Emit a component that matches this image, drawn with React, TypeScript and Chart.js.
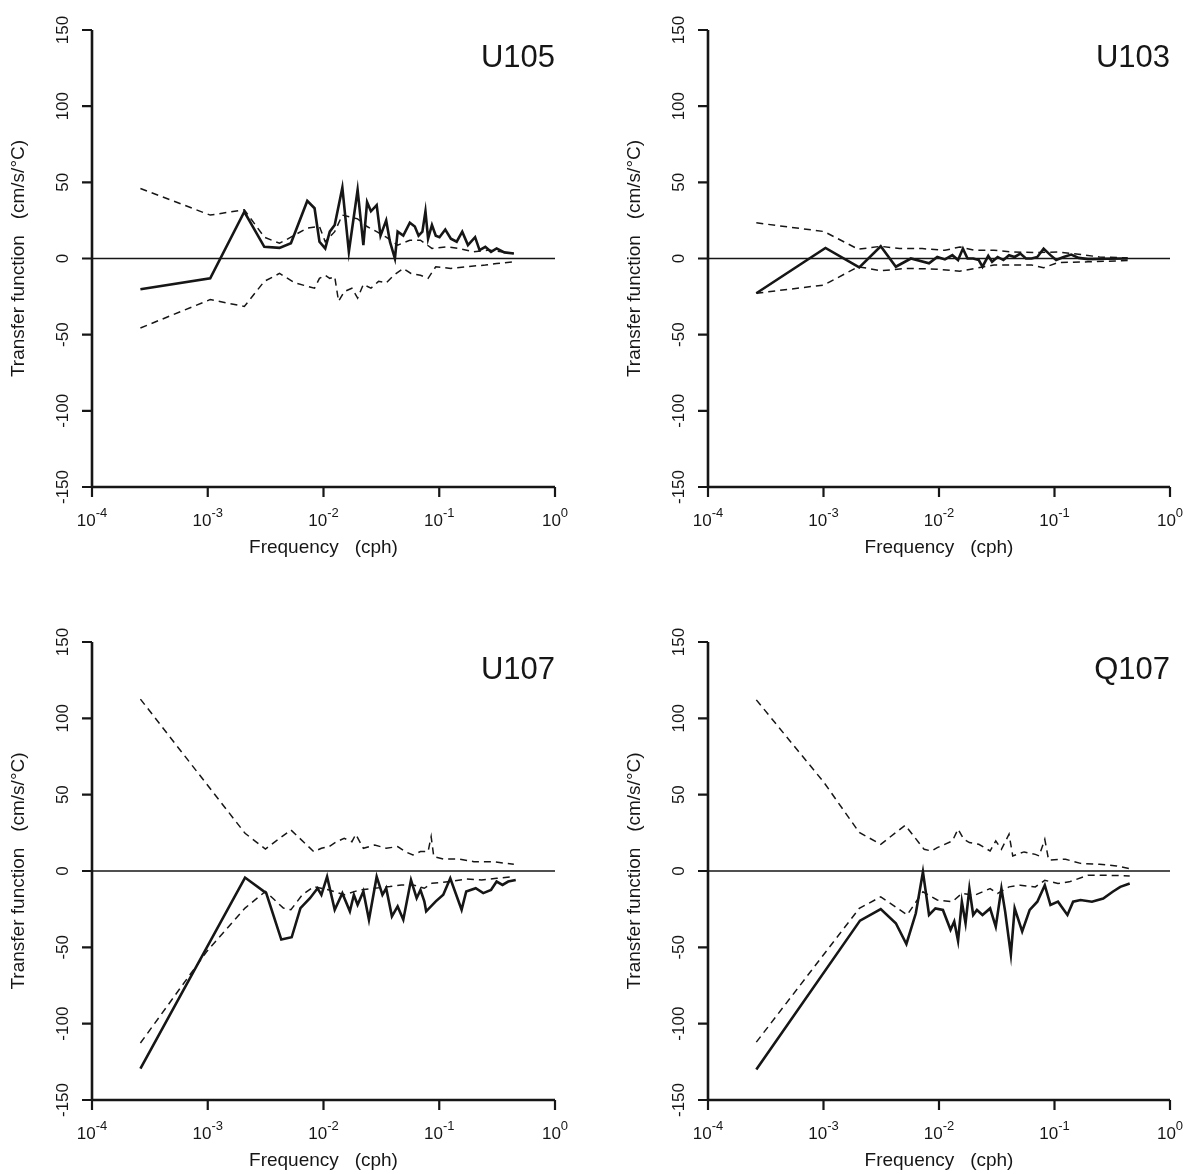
import React, { useEffect, useRef } from "react";
import { Chart, registerables } from "chart.js";

Chart.register(...registerables);

const FONT = '"Liberation Sans", Arial, Helvetica, sans-serif';

const X_TICK_EXPONENTS = [-4, -3, -2, -1, 0];
const Y_TICKS = [-150, -100, -50, 0, 50, 100, 150];
const X_TITLE = "Frequency   (cph)";
const Y_TITLE = "Transfer function   (cm/s/°C)";

// ---------- U105 ----------
const U105_SOLID_F = [2.62e-4, 1.05e-3, 2.07e-3, 3.08e-3, 4.17e-3, 5.23e-3, 7.24e-3, 8.37e-3, 9.23e-3, 1.035e-2, 1.133e-2, 1.25e-2, 1.455e-2, 1.656e-2, 1.971e-2, 2.21e-2, 2.38e-2, 2.57e-2, 2.88e-2, 3.11e-2, 3.48e-2, 3.75e-2, 4.14e-2, 4.37e-2, 4.89e-2, 5.57e-2, 6.15e-2, 6.63e-2, 7.15e-2, 7.6e-2, 8.01e-2, 8.65e-2, 9.33e-2, 0.1005, 0.1127, 0.126, 0.1415, 0.158, 0.177, 0.204, 0.223, 0.25, 0.28, 0.313, 0.365, 0.441];
const U105_SOLID = [-20.2, -13, 30.7, 7.7, 7, 10, 37.8, 33, 11, 6.6, 17.6, 22, 46.5, 4.4, 45, 8.8, 37, 31, 35, 15, 25, 11, 0, 17.6, 15, 23.5, 21, 15, 17.6, 31, 13, 22, 15, 14, 19, 13, 11, 17.6, 8.8, 14, 5.5, 7.7, 4.4, 6.6, 4, 3.3];
const U105_UPPER_F = [2.62e-4, 1.05e-3, 2.07e-3, 3.08e-3, 4.17e-3, 5.23e-3, 7.24e-3, 9.23e-3, 1.035e-2, 1.25e-2, 1.455e-2, 1.971e-2, 2.38e-2, 2.88e-2, 3.48e-2, 4.37e-2, 5.57e-2, 6.88e-2, 8.65e-2, 0.117, 0.147, 0.199, 0.269, 0.441];
const U105_UPPER = [46, 28.5, 32, 14, 10, 14, 20, 21, 11, 17.6, 28.5, 26, 21, 17.6, 14, 8.8, 12, 12, 6.6, 7.7, 6.6, 4.4, 5.5, 3.3];
const U105_LOWER_F = [2.62e-4, 1.05e-3, 2.07e-3, 3.08e-3, 4.17e-3, 5.64e-3, 8.37e-3, 9.23e-3, 1.035e-2, 1.133e-2, 1.25e-2, 1.349e-2, 1.511e-2, 1.758e-2, 1.971e-2, 2.21e-2, 2.57e-2, 2.99e-2, 3.48e-2, 4.05e-2, 4.89e-2, 5.7e-2, 6.88e-2, 8.01e-2, 9.33e-2, 0.126, 0.171, 0.25, 0.313, 0.441];
const U105_LOWER = [-45.6, -27, -31.5, -15, -9.8, -16, -19.5, -13, -11, -13, -12, -28, -21.7, -19.5, -26, -17, -19.5, -15, -16, -11, -6.5, -9.8, -11, -13, -5.4, -6.5, -5.4, -4.3, -3.3, -2.2];

// ---------- U103 ----------
const U103_SOLID_F = [2.62e-4, 1.04e-3, 2.04e-3, 3.13e-3, 4.23e-3, 5.71e-3, 8.2e-3, 9.66e-3, 1.125e-2, 1.306e-2, 1.462e-2, 1.611e-2, 1.766e-2, 1.977e-2, 2.21e-2, 2.38e-2, 2.67e-2, 2.88e-2, 3.22e-2, 3.61e-2, 4.04e-2, 4.52e-2, 5.06e-2, 5.66e-2, 6.34e-2, 7.1e-2, 8.05e-2, 9.23e-2, 0.1033, 0.12, 0.1396, 0.162, 0.195, 0.285, 0.43];
const U103_SOLID = [-22.8, 6.9, -5.8, 8, -5.4, 0, -3.2, 1, -0.6, 2.2, -1, 6.5, 0, 0, -1, -5.4, 1.7, -2.2, 1, -1, 2.2, 1, 3.2, 0, 0, 1, 6.5, 2.2, -1, 1, 2.6, 0.4, -0.4, -0.2, 0];
const U103_UPPER_F = [2.62e-4, 1.01e-3, 2.0e-3, 3.13e-3, 4.56e-3, 7.16e-3, 1.125e-2, 1.517e-2, 2.05e-2, 2.99e-2, 4.35e-2, 6.82e-2, 0.1072, 0.162, 0.245, 0.43];
const U103_UPPER = [23.4, 17.7, 6.1, 8, 6.5, 6.5, 5.4, 7.6, 5.4, 5.4, 4.3, 3.9, 4.3, 2.8, 1, 0.4];
const U103_LOWER_F = [2.62e-4, 1.01e-3, 2.0e-3, 3.13e-3, 5.3e-3, 9.66e-3, 1.517e-2, 2.05e-2, 2.99e-2, 4.35e-2, 6.34e-2, 8.05e-2, 0.1072, 0.195, 0.43];
const U103_LOWER = [-22.8, -17.4, -5.4, -8, -6.5, -7, -8.3, -6.5, -4.3, -4.3, -4.3, -6.1, -2.6, -2.2, -1.3];

// ---------- U107 ----------
const U107_SOLID_F = [2.62e-4, 2.1e-3, 3.2e-3, 4.32e-3, 5.31e-3, 6.32e-3, 7.64e-3, 8.89e-3, 9.59e-3, 1.074e-2, 1.25e-2, 1.455e-2, 1.69e-2, 1.83e-2, 1.97e-2, 2.21e-2, 2.47e-2, 2.88e-2, 3.23e-2, 3.48e-2, 3.9e-2, 4.37e-2, 4.89e-2, 5.7e-2, 6.38e-2, 6.88e-2, 7.43e-2, 7.71e-2, 9.33e-2, 0.1083, 0.1245, 0.156, 0.171, 0.2065, 0.24, 0.28, 0.313, 0.352, 0.394, 0.458];
const U107_SOLID = [-129.4, -4.3, -14.5, -44.9, -43.4, -24.3, -17.8, -11.3, -15.6, -3.7, -25.4, -14.5, -26.4, -15.6, -22.1, -13.4, -31.9, -3.7, -15.6, -11.3, -29.7, -23.2, -31.9, -5.9, -17.8, -12.4, -19.9, -26.4, -19.9, -15.6, -4.8, -25.4, -13.4, -11.3, -14.5, -12.4, -6.9, -9.1, -6.9, -5.9];
const U107_UPPER_F = [2.62e-4, 2.1e-3, 3.15e-3, 5.23e-3, 8.24e-3, 9.59e-3, 1.117e-2, 1.3e-2, 1.51e-2, 1.76e-2, 1.9e-2, 2.21e-2, 2.77e-2, 3.48e-2, 4.37e-2, 5.08e-2, 5.92e-2, 6.88e-2, 8.01e-2, 8.51e-2, 8.97e-2, 0.1083, 0.147, 0.199, 0.29, 0.441];
const U107_UPPER = [112.6, 24.7, 14.4, 26.9, 12.7, 14.9, 16, 19.2, 21.4, 19.2, 24, 14.9, 17, 14.9, 16, 12.7, 10.5, 12.7, 12.7, 22.5, 9.4, 7.9, 7.9, 6.1, 6.1, 4.4];
const U107_LOWER_F = [2.62e-4, 9.86e-4, 2.1e-3, 3.15e-3, 4.5e-3, 5.23e-3, 6.56e-3, 8.24e-3, 1.117e-2, 1.51e-2, 2.05e-2, 2.77e-2, 3.75e-2, 4.71e-2, 5.92e-2, 7.43e-2, 8.65e-2, 0.126, 0.171, 0.232, 0.313, 0.441];
const U107_LOWER = [-112.7, -52.5, -24.3, -13.4, -24.3, -25.4, -15.6, -10.2, -12.4, -15.6, -12.4, -11.3, -10.2, -9.1, -9.1, -11.3, -8, -6.9, -5.2, -5.9, -4.8, -3.7];

// ---------- Q107 ----------
const Q107_SOLID_F = [2.62e-4, 2.07e-3, 3.13e-3, 4.23e-3, 5.22e-3, 6.3e-3, 7.26e-3, 8.2e-3, 9.31e-3, 1.081e-2, 1.259e-2, 1.355e-2, 1.462e-2, 1.577e-2, 1.698e-2, 1.832e-2, 1.977e-2, 2.13e-2, 2.38e-2, 2.77e-2, 3.1e-2, 3.47e-2, 3.74e-2, 4.19e-2, 4.52e-2, 5.25e-2, 6.1e-2, 7.1e-2, 8.24e-2, 9.23e-2, 0.1072, 0.1294, 0.1449, 0.168, 0.211, 0.264, 0.319, 0.371, 0.448];
const Q107_SOLID = [-130, -32.5, -24.9, -34.2, -47.8, -27.7, -0.6, -28.8, -24.5, -25.5, -38.5, -33.1, -45.7, -20.1, -34.2, -11.5, -28.8, -25.5, -28.8, -24.5, -36.4, -11.5, -26.6, -54.8, -24.5, -39.6, -25.5, -20.1, -9.3, -22.3, -20.1, -28.8, -20.1, -19, -20.1, -18, -13.6, -10.4, -8.2];
const Q107_UPPER_F = [2.62e-4, 1.01e-3, 2.04e-3, 3.13e-3, 5.1e-3, 7.43e-3, 8.63e-3, 9.66e-3, 1.306e-2, 1.462e-2, 1.637e-2, 1.832e-2, 2.21e-2, 2.77e-2, 3.1e-2, 3.47e-2, 4.04e-2, 4.35e-2, 5.45e-2, 6.82e-2, 7.36e-2, 8.24e-2, 8.89e-2, 0.1247, 0.168, 0.245, 0.344, 0.448];
const Q107_UPPER = [112.1, 58, 25.2, 17.5, 30, 14.2, 13.1, 15.3, 19.7, 27.4, 20.8, 18.6, 17.5, 13.1, 19.7, 14.2, 24.1, 9.9, 12.5, 10.9, 9.9, 20.8, 7.2, 7.7, 5, 4.4, 3.3, 1.5];
const Q107_LOWER_F = [2.62e-4, 2.04e-3, 3.13e-3, 5.3e-3, 7.26e-3, 9.66e-3, 1.306e-2, 1.577e-2, 2.05e-2, 2.77e-2, 3.22e-2, 4.04e-2, 5.06e-2, 6.82e-2, 8.24e-2, 0.1072, 0.1343, 0.195, 0.285, 0.448];
const Q107_LOWER = [-112.1, -24.5, -16.9, -28.8, -13.6, -19, -20.1, -14.7, -15.8, -11.5, -14.7, -10.4, -9.3, -10.4, -6.1, -8.2, -7.1, -2.8, -2.8, -3.2];

type Series = { f: number[]; v: number[] };
type PanelSpec = {
  name: string;
  solid: Series;
  upper: Series;
  lower: Series;
  left: number;
  top: number;
  pad: { left: number; right: number; top: number; bottom: number };
};

const CW = 598;
const CH = 587;

const PANELS: PanelSpec[] = [
  {
    name: "U105",
    solid: { f: U105_SOLID_F, v: U105_SOLID },
    upper: { f: U105_UPPER_F, v: U105_UPPER },
    lower: { f: U105_LOWER_F, v: U105_LOWER },
    left: 0,
    top: 0,
    pad: { left: 92, right: 43, top: 30, bottom: 100 },
  },
  {
    name: "U103",
    solid: { f: U103_SOLID_F, v: U103_SOLID },
    upper: { f: U103_UPPER_F, v: U103_UPPER },
    lower: { f: U103_LOWER_F, v: U103_LOWER },
    left: 598,
    top: 0,
    pad: { left: 110, right: 26, top: 30, bottom: 100 },
  },
  {
    name: "U107",
    solid: { f: U107_SOLID_F, v: U107_SOLID },
    upper: { f: U107_UPPER_F, v: U107_UPPER },
    lower: { f: U107_LOWER_F, v: U107_LOWER },
    left: 0,
    top: 587,
    pad: { left: 92, right: 43, top: 55, bottom: 74 },
  },
  {
    name: "Q107",
    solid: { f: Q107_SOLID_F, v: Q107_SOLID },
    upper: { f: Q107_UPPER_F, v: Q107_UPPER },
    lower: { f: Q107_LOWER_F, v: Q107_LOWER },
    left: 598,
    top: 587,
    pad: { left: 110, right: 26, top: 55, bottom: 74 },
  },
];

const INK = "#161616";

function Panel({ spec }: { spec: PanelSpec }) {
  const ref = useRef<HTMLCanvasElement>(null);

  useEffect(() => {
    if (!ref.current) return;
    const toPts = (s: Series) => s.f.map((x, i) => ({ x, y: s.v[i] }));

    const axesPlugin = {
      id: "paperAxes",
      beforeDatasetsDraw(chart: any) {
        const { ctx, chartArea, scales } = chart;
        const y0 = scales.y.getPixelForValue(0);
        ctx.save();
        ctx.strokeStyle = INK;
        ctx.lineWidth = 1.4;
        ctx.beginPath();
        ctx.moveTo(chartArea.left, y0);
        ctx.lineTo(chartArea.right, y0);
        ctx.stroke();
        ctx.restore();
      },
      afterDraw(chart: any) {
        const { ctx, scales } = chart;
        const xs = scales.x;
        const ys = scales.y;
        const L = xs.getPixelForValue(1e-4);
        const R = xs.getPixelForValue(1);
        const T = ys.getPixelForValue(150);
        const B = ys.getPixelForValue(-150);
        ctx.save();
        ctx.strokeStyle = INK;
        ctx.fillStyle = INK;
        ctx.lineWidth = 2.6;
        ctx.lineCap = "butt";
        ctx.beginPath();
        ctx.moveTo(L, T);
        ctx.lineTo(L, B);
        ctx.moveTo(L, B);
        ctx.lineTo(R, B);
        ctx.stroke();
        ctx.lineWidth = 2.2;
        ctx.beginPath();
        for (const v of Y_TICKS) {
          const y = ys.getPixelForValue(v);
          ctx.moveTo(L - 10, y);
          ctx.lineTo(L, y);
        }
        for (const e of X_TICK_EXPONENTS) {
          const x = xs.getPixelForValue(Math.pow(10, e));
          ctx.moveTo(x, B);
          ctx.lineTo(x, B + 10);
        }
        ctx.stroke();
        // y tick labels (rotated)
        ctx.font = `17px ${FONT}`;
        ctx.textAlign = "center";
        ctx.textBaseline = "middle";
        for (const v of Y_TICKS) {
          const y = ys.getPixelForValue(v);
          ctx.save();
          ctx.translate(L - 29, y);
          ctx.rotate(-Math.PI / 2);
          ctx.fillText(String(v), 0, 0);
          ctx.restore();
        }
        // y title
        ctx.save();
        ctx.font = `19px ${FONT}`;
        ctx.translate(L - 73, (T + B) / 2);
        ctx.rotate(-Math.PI / 2);
        ctx.fillText(Y_TITLE, 0, 0);
        ctx.restore();
        // x tick labels with superscripts
        const baseFont = `17px ${FONT}`;
        const supFont = `13px ${FONT}`;
        ctx.textBaseline = "alphabetic";
        ctx.textAlign = "left";
        for (const e of X_TICK_EXPONENTS) {
          const x = xs.getPixelForValue(Math.pow(10, e));
          ctx.font = baseFont;
          const wb = ctx.measureText("10").width;
          ctx.font = supFont;
          const sup = String(e);
          const ws = ctx.measureText(sup).width;
          const start = x - (wb + ws) / 2;
          ctx.font = baseFont;
          ctx.fillText("10", start, B + 39);
          ctx.font = supFont;
          ctx.fillText(sup, start + wb, B + 30);
        }
        // x title
        ctx.font = `19px ${FONT}`;
        ctx.textAlign = "center";
        ctx.textBaseline = "middle";
        ctx.fillText(X_TITLE, (L + R) / 2, B + 61);
        // panel name
        ctx.font = `31px ${FONT}`;
        ctx.textAlign = "right";
        ctx.textBaseline = "alphabetic";
        ctx.fillText(spec.name, R, T + 37);
        ctx.restore();
      },
    };

    const dashed = {
      borderColor: INK,
      borderWidth: 1.5,
      borderDash: [7, 5],
      pointRadius: 0,
      tension: 0,
      fill: false,
    };

    const chart = new Chart(ref.current, {
      type: "line",
      data: {
        datasets: [
          { label: "upper", data: toPts(spec.upper), ...dashed },
          { label: "lower", data: toPts(spec.lower), ...dashed },
          {
            label: "transfer",
            data: toPts(spec.solid),
            borderColor: INK,
            borderWidth: 2.6,
            pointRadius: 0,
            tension: 0,
            fill: false,
          },
        ],
      },
      options: {
        responsive: false,
        animation: false,
        devicePixelRatio: 1,
        layout: { padding: spec.pad },
        plugins: {
          legend: { display: false },
          tooltip: { enabled: false },
        },
        events: [],
        scales: {
          x: { type: "logarithmic", min: 1e-4, max: 1, display: false },
          y: { type: "linear", min: -150, max: 150, display: false },
        },
      },
      plugins: [axesPlugin],
    } as any);
    return () => chart.destroy();
  }, [spec]);

  return (
    <canvas
      ref={ref}
      width={CW}
      height={CH}
      style={{ position: "absolute", left: spec.left, top: spec.top, width: CW, height: CH }}
    />
  );
}

export default function App() {
  return (
    <div
      style={{
        position: "absolute",
        left: 0,
        top: 0,
        width: 1196,
        height: 1174,
        background: "#ffffff",
        overflow: "hidden",
      }}
    >
      {PANELS.map((p) => (
        <Panel key={p.name} spec={p} />
      ))}
    </div>
  );
}
